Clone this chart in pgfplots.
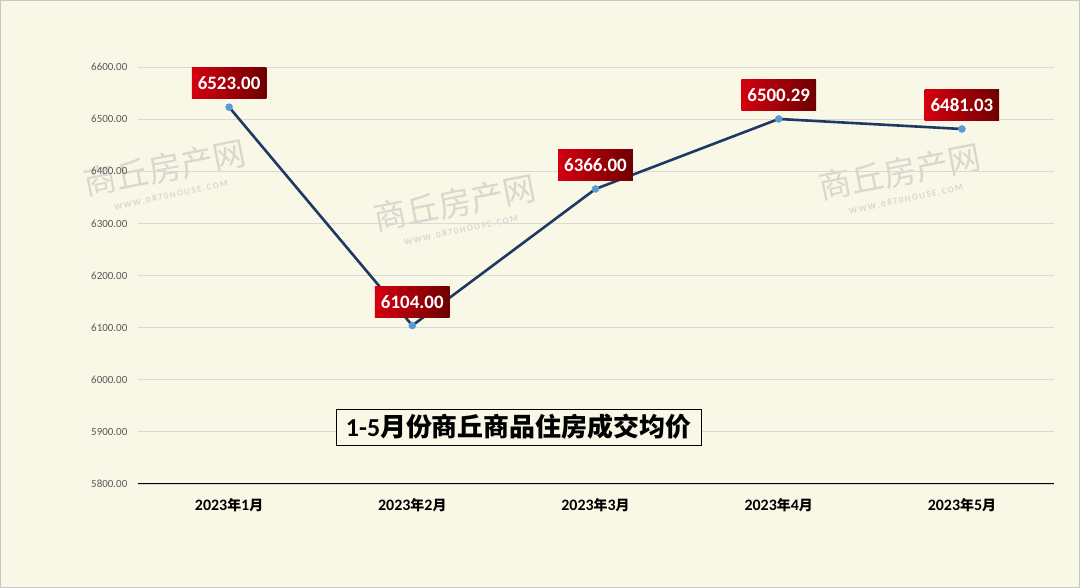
\documentclass[border=0pt]{standalone}
\usepackage{pgfplots}
\pgfplotsset{compat=1.18}
\usepackage{fontspec}
\setmainfont{Carlito}
\newfontfamily\cjk{Noto Sans CJK SC}

\definecolor{bgc}{HTML}{F9F7E6}
\definecolor{navy}{HTML}{1F3864}
\definecolor{mk}{HTML}{5B9BD5}
\definecolor{lblL}{HTML}{D40010}
\definecolor{lblR}{HTML}{6E0000}
\definecolor{tickc}{HTML}{595959}
\definecolor{gridc}{HTML}{D9D9D9}
\definecolor{wm}{HTML}{DAD8CE}

\newcommand{\xl}[1]{{\fontsize{16}{18}\selectfont 2023}{\cjk\fontsize{14}{16}\selectfont 年}{\fontsize{16}{18}\selectfont #1}{\cjk\fontsize{14}{16}\selectfont 月}}

\begin{document}
\begin{tikzpicture}[x=1bp,y=1bp]
\fill[bgc] (0,0) rectangle (1080,588);
\draw[gray!45, line width=0.8bp] (0.4,0.4) rectangle (1079.6,587.6);

% watermarks
\foreach \cx/\cy in {165/420, 455/385, 900/416}{
  \node[text=wm, rotate=11, font=\cjk\fontsize{33}{36}\selectfont, inner sep=0pt]
    at (\cx,\cy) {商丘房产网};
  \node[text=wm, rotate=12, font=\bfseries\fontsize{9}{10}\selectfont, inner sep=0pt]
    at (\cx+6,\cy-27) {W\,W\,W\,.\,0\,8\,7\,0\,H\,O\,U\,S\,E\,.\,C\,O\,M};
}

\begin{axis}[
    at={(137.5bp,104bp)}, anchor=south west,
    scale only axis, width=916bp, height=417bp,
    xmin=-0.5, xmax=4.5, ymin=5800, ymax=6600,
    xtick={0,1,2,3,4},
    xticklabels={\xl{1},\xl{2},\xl{3},\xl{4},\xl{5}},
    ytick={5800,5900,...,6600},
    axis x line*=bottom, axis y line*=left,
    y axis line style={draw=none},
    x axis line style={-, black, line width=1bp},
    major tick length=0pt,
    ymajorgrids, grid style={draw=gridc, line width=0.8bp},
    /pgf/number format/assume math mode=true,
    yticklabel={\pgfmathprintnumber[fixed, fixed zerofill, precision=2, 1000 sep={}]{\tick}},
    yticklabel style={font=\fontsize{11}{13}\selectfont, text=tickc, anchor=east, inner sep=0pt, xshift=-10bp},
    xticklabel style={font=\bfseries, anchor=center, inner sep=0pt, yshift=-21.5bp},
    clip=false,
]
\addplot[navy, line width=2.6bp, mark=*, mark size=3.5bp,
    mark options={draw=mk, fill=mk, line width=0.5bp},
    nodes near coords, point meta=explicit symbolic,
    every node near coord/.append style={
        font=\bfseries\fontsize{19}{22}\selectfont, text=white,
        left color=lblL, right color=lblR,
        inner xsep=6bp, inner ysep=0pt, minimum height=31bp,
        anchor=south, yshift=8bp}]
    table[meta=lab] {
    x y lab
    0 6523.00 6523.00
    1 6104.00 6104.00
    2 6366.00 6366.00
    3 6500.29 6500.29
    4 6481.03 6481.03
    };
\end{axis}

\node[draw=black, line width=0.9bp, fill=bgc, minimum width=365bp, minimum height=36bp, inner sep=0pt]
  at (518.5,161) {\bfseries\fontsize{26}{30}\selectfont 1-5{\cjk 月份商丘商品住房成交均价}};
\end{tikzpicture}
\end{document}
